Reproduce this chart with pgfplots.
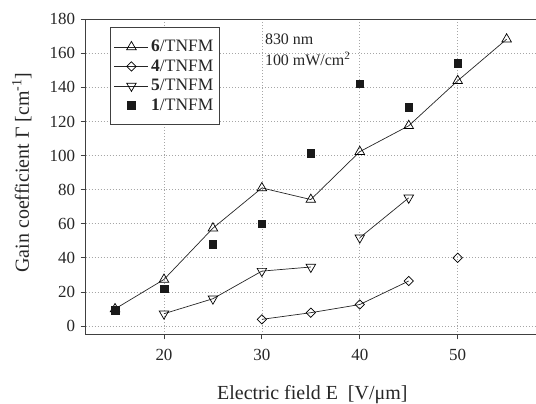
\documentclass[border=0pt]{standalone}
\usepackage{pgfplots}
\pgfplotsset{compat=1.18}
\usepackage{fontspec}
\setmainfont{Liberation Serif}
\begin{document}
\begin{tikzpicture}
\begin{axis}[
  x=9.81pt, y=1.7075pt,
  xmin=12, xmax=58.3, ymin=-5, ymax=180,
  clip=false,
  xtick={20,30,40,50}, ytick={0,20,...,180},
  tick align=outside, major tick length=5pt,
  xtick pos=bottom, ytick pos=left,
  /pgf/number format/assume math mode=true,
  ticklabel style={font=\fontsize{17}{20}\selectfont, text=black!85},
  yticklabel style={xshift=-2pt},
  xticklabel style={yshift=-6pt},
  axis line style={draw=black!75, line width=0.9pt},
  every tick/.style={draw=black!75, line width=0.8pt},
  grid=major,
  grid style={draw=gray!70, line width=0.7pt, dash pattern=on 0.8pt off 2.2pt},
  xlabel={Electric field E\ \ [V/μm]},
  ylabel={Gain coefficient Γ [cm\textsuperscript{-1}]},
  label style={font=\fontsize{20}{24}\selectfont, text=black!85},
  xlabel style={at={(rel axis cs:0.5,-0.206)}, anchor=base},
  ylabel style={at={(rel axis cs:-0.141,0.514)}, anchor=center, rotate=0},
  unbounded coords=jump,
  legend image code/.code={\draw[mark repeat=2,mark phase=2,#1] plot coordinates {(0pt,0pt) (17pt,0pt) (34pt,0pt)};},
  legend cell align=left,
  legend style={at={(rel axis cs:0.053,0.974)}, anchor=north west,
    draw=black!75, line width=0.9pt, font=\fontsize{17.5}{20}\selectfont,
    inner xsep=4pt, inner ysep=10pt, row sep=1.5pt,
    nodes={inner sep=2.5pt, text=black!85}},
]
\addplot[black!85, line width=0.7pt, mark=triangle, mark size=5.5pt,
  mark options={fill=white, draw=black, line width=0.7pt}]
  coordinates {(15,10) (20,27.3) (25,57.4) (30,81) (35,74.2) (40,102.3) (45,117.5) (50,143.9) (55,168.3)};
\addlegendentry{\textbf{6}/TNFM\hspace{7pt}}
\addplot[black!85, line width=0.7pt, mark=square, mark size=3.3pt,
  mark options={fill=white, draw=black, line width=0.7pt, rotate=45}]
  coordinates {(30,3.9) (35,7.8) (40,12.6) (45,26.4) (47,nan) (50,40)};
\addlegendentry{\textbf{4}/TNFM\hspace{7pt}}
\addplot[black!85, line width=0.7pt, mark=triangle, mark size=5.5pt,
  mark options={fill=white, draw=black, line width=0.7pt, rotate=180}]
  coordinates {(20,7.2) (25,16) (30,32.2) (35,34.6) (37,nan) (40,51.8) (45,75.2)};
\addlegendentry{\textbf{5}/TNFM\hspace{7pt}}
\addplot[only marks, mark=square*, mark size=3.8pt,
  mark options={fill=black!90, draw=black!90, line width=0.5pt}]
  coordinates {(15,9.2) (20,21.9) (25,47.8) (30,60.1) (35,101.5) (40,142.1) (45,128.5) (50,154.2)};
\addlegendentry{\textbf{1}/TNFM\hspace{7pt}}
\node[anchor=base west, align=left, font=\fontsize{16}{20.7}\selectfont, text=black!85, inner sep=0pt]
  at (axis cs:30.3,152.9) {830 nm\\100 mW/cm\textsuperscript{2}};
\coordinate (bl) at (axis cs:3.25,-45.3);
\coordinate (tr) at (axis cs:58,191.3);
\end{axis}
\pgfresetboundingbox
\useasboundingbox (bl) rectangle (tr);
\end{tikzpicture}
\end{document}
